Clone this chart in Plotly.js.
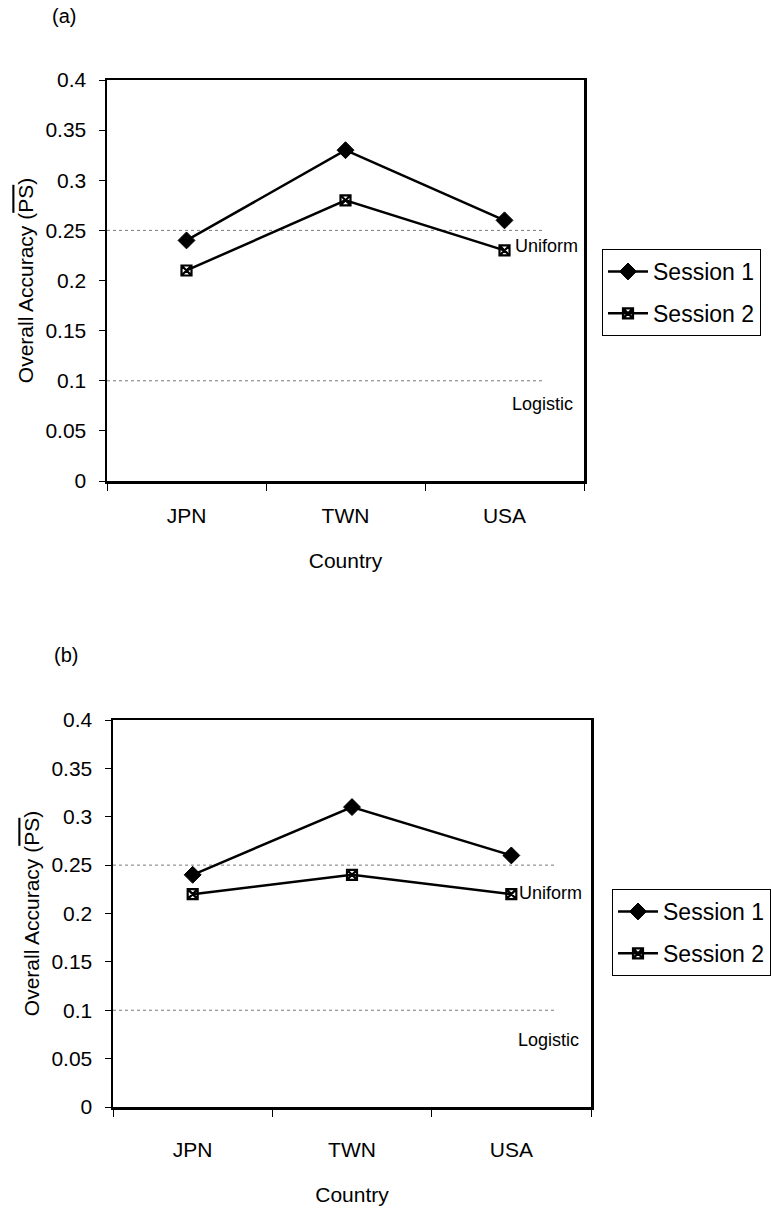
<!DOCTYPE html>
<html><head><meta charset="utf-8">
<script src="https://cdn.plot.ly/plotly-3.0.1.min.js"></script>
<style>body{margin:0;background:#fff}#chart{width:771px;height:1210px}</style>
</head><body><div id="chart"></div>
<script>
// ---- data ----
const countries = ['JPN', 'TWN', 'USA'];
const sessionNames = ['Session 1', 'Session 2'];
const panelA_session1 = [0.24, 0.33, 0.26];
const panelA_session2 = [0.21, 0.28, 0.23];
const panelB_session1 = [0.24, 0.31, 0.26];
const panelB_session2 = [0.22, 0.24, 0.22];
const refLabels = ['Uniform', 'Logistic'];
const refLevels = [0.25, 0.10];
const yTickVals = [0, 0.05, 0.1, 0.15, 0.2, 0.25, 0.3, 0.35, 0.4];
const panelLabels = ['(a)', '(b)'];
const yTitle = 'Overall Accuracy (<span style="text-decoration:overline">PS</span>)';
const xTitle = 'Country';

// ---- style ----
const FONT = 'Liberation Sans, Arial, sans-serif';
const W = 771, H = 1210;
const px = v => v / W, py = v => 1 - v / H;

function trace(y, name, sym, xa, ya, leg, grp) {
  return {
    x: countries, y: y, name: name, type: 'scatter', mode: 'lines+markers',
    xaxis: xa, yaxis: ya, legend: leg, legendgroup: grp,
    line: {color: '#000', width: 2.5},
    marker: sym === 'd'
      ? {symbol: 'diamond', size: 13, color: '#000', line: {color: '#000', width: 1}}
      : {symbol: 'square-x-open', size: 10, color: '#000', line: {color: '#000', width: 2.2}},
    hoverinfo: 'x+y'
  };
}

const data = [
  trace(panelA_session1, sessionNames[0], 'd', 'x', 'y', 'legend', 'a1'),
  trace(panelA_session2, sessionNames[1], 'x', 'x', 'y', 'legend', 'a2'),
  trace(panelB_session1, sessionNames[0], 'd', 'x2', 'y2', 'legend2', 'b1'),
  trace(panelB_session2, sessionNames[1], 'x', 'x2', 'y2', 'legend2', 'b2')
];

function xaxis(domain, anchor, standoff, titleStandoff) {
  return {
    domain: domain, anchor: anchor, type: 'category', range: [-0.5, 2.5],
    showline: true, linecolor: '#000', linewidth: 2.5, mirror: true,
    ticks: 'outside', tickson: 'boundaries', ticklen: 7, tickcolor: '#000', tickwidth: 1,
    ticklabelstandoff: standoff,
    showgrid: false, zeroline: false,
    tickfont: {family: FONT, size: 21, color: '#000'},
    title: {text: xTitle, font: {family: FONT, size: 21, color: '#000'}, standoff: titleStandoff}
  };
}
function yaxis(domain, anchor) {
  return {
    domain: domain, anchor: anchor, range: [0, 0.4],
    tickvals: yTickVals, ticktext: yTickVals.map(v => String(v)),
    showline: true, linecolor: '#000', linewidth: 2.5, mirror: true,
    ticks: 'outside', ticklen: 6, tickcolor: '#000', tickwidth: 1,
    ticklabelstandoff: 8,
    showgrid: false, zeroline: false,
    tickfont: {family: FONT, size: 21, color: '#000'},
    title: {text: yTitle, font: {family: FONT, size: 21, color: '#000'}, standoff: 6}
  };
}

const shapes = [];
const annotations = [];
[['x', 'y', 2.255], ['x2', 'y2', 2.27]].forEach(([xa, ya, xEnd]) => {
  refLevels.forEach(lv => shapes.push({
    type: 'line', xref: xa, yref: ya, x0: -0.5, x1: xEnd, y0: lv, y1: lv,
    line: {color: '#7a7a7a', width: 1, dash: 'dot'}, layer: 'below'
  }));
});
// reference-line labels
annotations.push(
  {xref: 'x', yref: 'y', x: countries[2], y: 0.234, text: refLabels[0], showarrow: false, xanchor: 'left', xshift: 8, font: {family: FONT, size: 18, color: '#000'}},
  {xref: 'x', yref: 'y', x: countries[2], y: 0.077, text: refLabels[1], showarrow: false, xanchor: 'left', xshift: 5, font: {family: FONT, size: 18, color: '#000'}},
  {xref: 'x2', yref: 'y2', x: countries[2], y: 0.221, text: refLabels[0], showarrow: false, xanchor: 'left', xshift: 6, font: {family: FONT, size: 18, color: '#000'}},
  {xref: 'x2', yref: 'y2', x: countries[2], y: 0.069, text: refLabels[1], showarrow: false, xanchor: 'left', xshift: 5, font: {family: FONT, size: 18, color: '#000'}},
  {xref: 'paper', yref: 'paper', x: px(50), y: py(16), text: panelLabels[0], showarrow: false, xanchor: 'left', yanchor: 'middle', font: {family: FONT, size: 20, color: '#000'}},
  {xref: 'paper', yref: 'paper', x: px(52), y: py(655), text: panelLabels[1], showarrow: false, xanchor: 'left', yanchor: 'middle', font: {family: FONT, size: 20, color: '#000'}}
);

function legend(x, y) {
  return {
    x: px(x), y: py(y), xanchor: 'left', yanchor: 'top',
    bgcolor: '#fff', bordercolor: '#000', borderwidth: 1,
    font: {family: FONT, size: 23, color: '#000'},
    itemwidth: 40, tracegroupgap: 9, traceorder: 'grouped'
  };
}

const layout = {
  width: W, height: H, margin: {l: 0, r: 0, t: 0, b: 0},
  paper_bgcolor: '#fff', plot_bgcolor: '#fff',
  showlegend: true,
  xaxis: xaxis([px(107), px(584)], 'y', 14, 28),
  yaxis: yaxis([py(481), py(80)], 'x'),
  xaxis2: xaxis([px(113), px(591)], 'y2', 22, 28),
  yaxis2: yaxis([py(1107), py(720)], 'x2'),
  legend: legend(602, 249),
  legend2: legend(612, 889),
  shapes: shapes,
  annotations: annotations
};

Plotly.newPlot('chart', data, layout, {displayModeBar: false, staticPlot: true});
</script>
</body></html>
